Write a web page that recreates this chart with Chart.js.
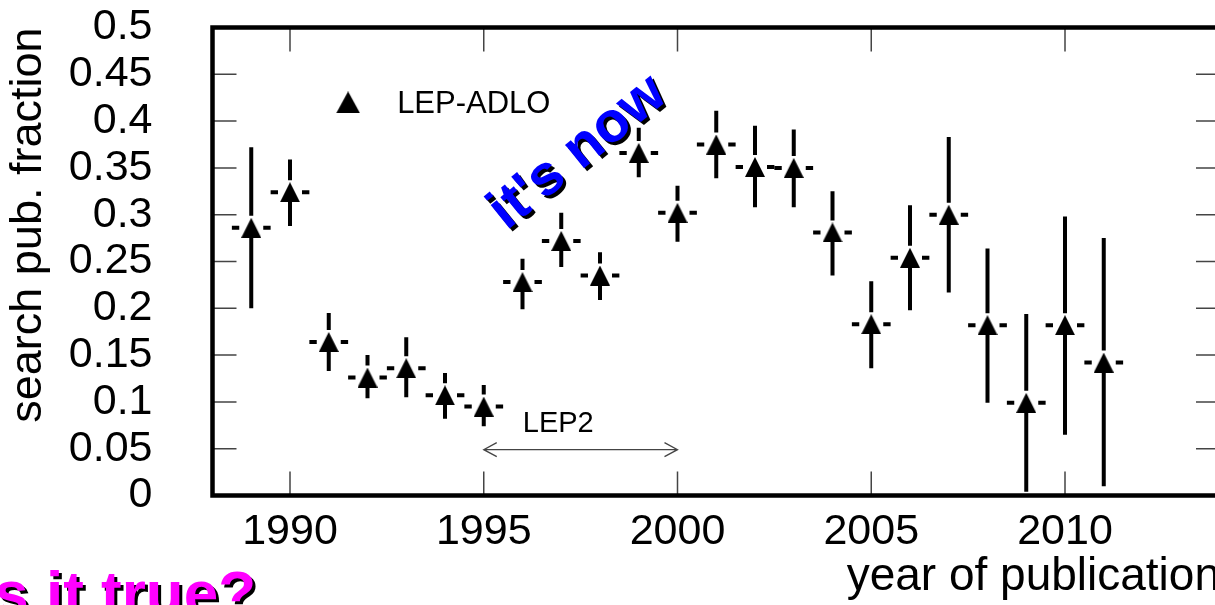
<!DOCTYPE html>
<html>
<head>
<meta charset="utf-8">
<script src="https://cdn.jsdelivr.net/npm/chart.js@4.4.0/dist/chart.umd.min.js"></script>
<style>
  html, body { margin: 0; padding: 0; background: #fff; overflow: hidden; }
  #wrap { position: absolute; left: 0; top: 0; width: 1240px; height: 605px; }
</style>
</head>
<body>
<div id="wrap"><canvas id="pubChart" width="1240" height="605"></canvas></div>
<script>
// Data
const years = [1989, 1990, 1991, 1992, 1993, 1994, 1995, 1996, 1997, 1998, 1999, 2000,
               2001, 2002, 2003, 2004, 2005, 2006, 2007, 2008, 2009, 2010, 2011];
const fraction = [0.286, 0.324, 0.164, 0.126, 0.136, 0.107, 0.095, 0.228, 0.272, 0.235, 0.366, 0.302,
                  0.375, 0.351, 0.350, 0.281, 0.183, 0.254, 0.300, 0.182, 0.099, 0.182, 0.142];
const errHigh = [0.372, 0.359, 0.195, 0.150, 0.169, 0.131, 0.118, 0.253, 0.302, 0.260, 0.393, 0.331,
                 0.411, 0.395, 0.391, 0.325, 0.229, 0.310, 0.383, 0.264, 0.194, 0.298, 0.275];
const errLow = [0.200, 0.288, 0.133, 0.104, 0.105, 0.082, 0.074, 0.199, 0.244, 0.209, 0.340, 0.271,
                0.339, 0.308, 0.308, 0.235, 0.136, 0.198, 0.217, 0.099, 0.004, 0.065, 0.010];

const xTicks = [1990, 1995, 2000, 2005, 2010];
const xTickLabels = ['1990', '1995', '2000', '2005', '2010'];
const yTicks = [0, 0.05, 0.1, 0.15, 0.2, 0.25, 0.3, 0.35, 0.4, 0.45, 0.5];
const yTickLabels = ['0', '0.05', '0.1', '0.15', '0.2', '0.25', '0.3', '0.35', '0.4', '0.45', '0.5'];

Chart.defaults.font.family = "'Liberation Sans', Arial, sans-serif";
Chart.defaults.color = '#000';

// filled triangle marker, centred on the point
function makeTriangle(w, h) {
  const c = document.createElement('canvas');
  c.width = w;
  c.height = h;
  const g = c.getContext('2d');
  g.fillStyle = '#000';
  g.beginPath();
  g.moveTo(w / 2, 0);
  g.lineTo(w, h);
  g.lineTo(0, h);
  g.closePath();
  g.fill();
  return c;
}
const marker = makeTriangle(20, 20);
const legendMarker = makeTriangle(24, 22);

// error bars drawn under the markers
const errorBars = {
  id: 'errorBars',
  beforeDatasetsDraw(chart) {
    const { ctx, scales: { x, y } } = chart;
    ctx.save();
    ctx.strokeStyle = '#000';
    ctx.lineWidth = 4;
    years.forEach((yr, i) => {
      const px = x.getPixelForValue(yr);
      const py = y.getPixelForValue(fraction[i]);
      const hw = x.getPixelForValue(yr + 0.5) - px;
      ctx.beginPath();
      ctx.moveTo(px, y.getPixelForValue(errHigh[i]));
      ctx.lineTo(px, py - 12);
      ctx.moveTo(px, py + 9);
      ctx.lineTo(px, y.getPixelForValue(errLow[i]));
      ctx.moveTo(px - hw, py);
      ctx.lineTo(px - 12, py);
      ctx.moveTo(px + 12, py);
      ctx.lineTo(px + hw, py);
      ctx.stroke();
    });
    ctx.restore();
  }
};

function shadowText(ctx, text, x, y, angle, font, color) {
  ctx.save();
  ctx.font = font;
  ctx.textAlign = 'center';
  ctx.textBaseline = 'alphabetic';
  ctx.fillStyle = '#000';
  ctx.translate(x + 3, y + 3);
  ctx.rotate(angle);
  ctx.fillText(text, 0, 0);
  ctx.restore();
  ctx.save();
  ctx.font = font;
  ctx.textAlign = 'center';
  ctx.textBaseline = 'alphabetic';
  ctx.fillStyle = color;
  ctx.translate(x, y);
  ctx.rotate(angle);
  ctx.fillText(text, 0, 0);
  ctx.restore();
}

// frame, inside ticks, legend and annotations
const decorations = {
  id: 'decorations',
  afterDatasetsDraw(chart) {
    const { ctx, chartArea: a, scales: { x, y } } = chart;
    ctx.save();

    // inside ticks
    ctx.strokeStyle = '#444';
    ctx.lineWidth = 1.5;
    ctx.beginPath();
    yTicks.forEach(v => {
      const py = y.getPixelForValue(v);
      ctx.moveTo(a.left, py); ctx.lineTo(a.left + 24, py);
      ctx.moveTo(a.right, py); ctx.lineTo(a.right - 24, py);
    });
    xTicks.forEach(v => {
      const px = x.getPixelForValue(v);
      ctx.moveTo(px, a.bottom); ctx.lineTo(px, a.bottom - 24);
      ctx.moveTo(px, a.top); ctx.lineTo(px, a.top + 24);
    });
    ctx.stroke();

    // frame
    ctx.strokeStyle = '#000';
    ctx.lineWidth = 4.5;
    ctx.strokeRect(a.left, a.top, a.right - a.left, a.bottom - a.top);

    // legend
    const lx = x.getPixelForValue(1991.5);
    const ly = y.getPixelForValue(0.42);
    ctx.drawImage(legendMarker, lx - 12, ly - 11);
    ctx.fillStyle = '#000';
    ctx.font = "31px 'Liberation Sans', Arial, sans-serif";
    ctx.textBaseline = 'alphabetic';
    ctx.textAlign = 'left';
    ctx.fillText('LEP-ADLO', lx + 49, ly + 11);

    // LEP2 period arrow
    const ax1 = x.getPixelForValue(1995);
    const ax2 = x.getPixelForValue(2000);
    const ay = y.getPixelForValue(0.049);
    ctx.strokeStyle = '#444';
    ctx.lineWidth = 1.3;
    ctx.beginPath();
    ctx.moveTo(ax1, ay); ctx.lineTo(ax2, ay);
    ctx.moveTo(ax1 + 13, ay - 7); ctx.lineTo(ax1, ay); ctx.lineTo(ax1 + 13, ay + 7);
    ctx.moveTo(ax2 - 13, ay - 7); ctx.lineTo(ax2, ay); ctx.lineTo(ax2 - 13, ay + 7);
    ctx.stroke();
    ctx.fillStyle = '#000';
    ctx.font = "29px 'Liberation Sans', Arial, sans-serif";
    ctx.fillText('LEP2', ax1 + 39, ay - 18);
    ctx.restore();

    shadowText(ctx, "it's now", 588, 165, -39 * Math.PI / 180,
      "bold 57px 'Liberation Sans', Arial, sans-serif", '#0000ff');
    ctx.save();
    ctx.font = "bold 62px 'Liberation Sans', Arial, sans-serif";
    ctx.textAlign = 'left';
    ctx.fillStyle = '#000';
    ctx.fillText('is it true?', -20, 617);
    ctx.fillStyle = '#ff00ff';
    ctx.fillText('is it true?', -23, 614);
    ctx.restore();
  }
};

new Chart(document.getElementById('pubChart'), {
  type: 'scatter',
  data: {
    datasets: [{
      label: 'LEP-ADLO',
      data: years.map((yr, i) => ({ x: yr, y: fraction[i] })),
      pointStyle: marker,
      pointRadius: 10,
      showLine: false
    }]
  },
  options: {
    responsive: false,
    animation: false,
    events: [],
    layout: { padding: { left: 0, top: 27.5, right: 20, bottom: 0 } },
    plugins: {
      legend: { display: false },
      tooltip: { enabled: false }
    },
    scales: {
      x: {
        type: 'linear',
        min: 1988,
        max: 2014,
        afterFit(s) { s.height = 109.5; s.paddingLeft = 0; s.paddingRight = 0; },
        afterBuildTicks(s) { s.ticks = xTicks.map(v => ({ value: v })); },
        grid: { display: false, drawTicks: false },
        border: { display: false },
        ticks: {
          padding: 11,
          maxRotation: 0,
          autoSkip: false,
          font: { size: 43 },
          callback: (v, i) => xTickLabels[i]
        },
        title: {
          display: true,
          text: 'year of publication',
          align: 'end',
          font: { size: 46 },
          padding: { top: 0, bottom: 0 }
        }
      },
      y: {
        type: 'linear',
        min: 0,
        max: 0.5,
        // fixed axis width; drop the label overhang padding so the frame sits where the original does
        afterFit(s) { s.width = 212.5; s.paddingTop = 0; s.paddingBottom = 0; },
        afterBuildTicks(s) { s.ticks = yTicks.map(v => ({ value: v })); },
        grid: { display: false, drawTicks: false },
        border: { display: false },
        ticks: {
          padding: 60,
          autoSkip: false,
          font: { size: 43 },
          callback: (v, i) => yTickLabels[i]
        },
        title: {
          display: true,
          text: 'search pub. fraction',
          align: 'end',
          font: { size: 45 },
          padding: { top: 2, bottom: 0 }
        }
      }
    }
  },
  plugins: [errorBars, decorations]
});
</script>
</body>
</html>
